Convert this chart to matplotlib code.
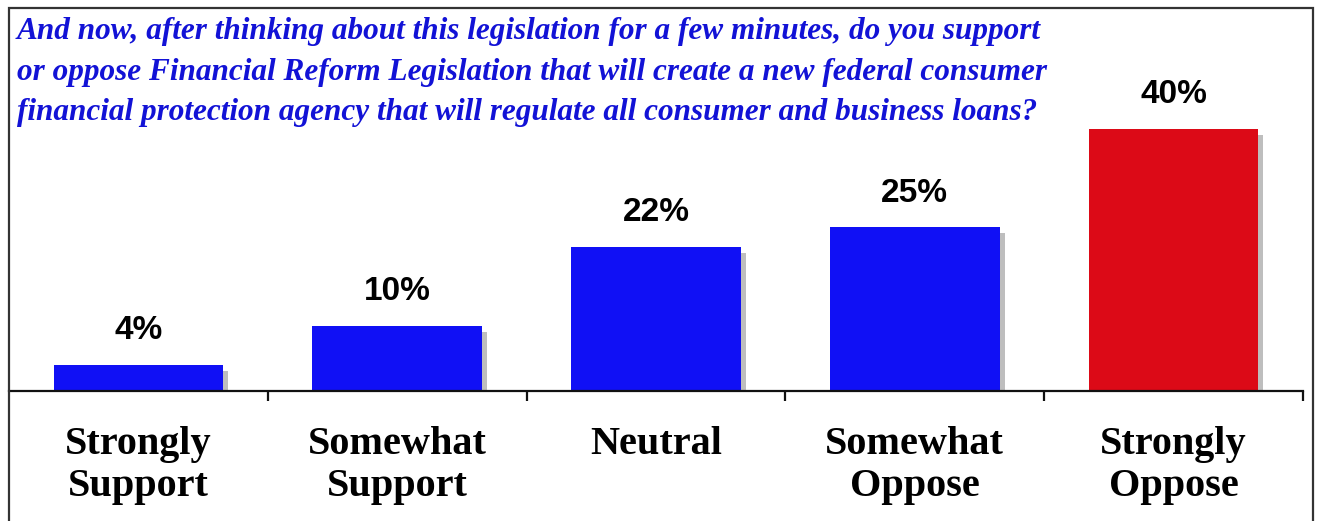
import matplotlib.pyplot as plt
from matplotlib.patches import Rectangle

# survey answers
categories = ['Strongly\nSupport', 'Somewhat\nSupport', 'Neutral', 'Somewhat\nOppose', 'Strongly\nOppose']
values = [4, 10, 22, 25, 40]
value_labels = ['4%', '10%', '22%', '25%', '40%']
bar_colors = ['#1010F5', '#1010F5', '#1010F5', '#1010F5', '#DC0A17']
title_lines = [
    'And now, after thinking about this legislation for a few minutes, do you support',
    'or oppose Financial Reform Legislation that will create a new federal consumer',
    'financial protection agency that will regulate all consumer and business loans?',
]

W, H = 1319, 521
fig = plt.figure(figsize=(W / 100, H / 100), dpi=100)
ax = fig.add_axes([9 / W, (H - 391) / H, (1303 - 9) / W, (391 - 8) / H])

x = list(range(len(values)))
bw = 0.656
px_per_unit = 6.55  # pixels per percent
# drop shadows behind bars
ax.bar([i + 5 / 259 for i in x], [v - 6 / px_per_unit for v in values], width=bw,
       color='#BEBEBE', zorder=1)
ax.bar(x, values, width=bw, color=bar_colors, zorder=2)

for i, v in enumerate(values):
    ax.annotate(value_labels[i], (i, v), xytext=(0, 18.5), textcoords='offset points',
                ha='center', va='baseline', fontsize=24, fontweight='bold',
                family='Liberation Sans', color='black')

ax.set_xlim(-0.5, len(values) - 0.5)
ax.set_ylim(0, (391 - 8) / px_per_unit)
for s in ['left', 'top', 'right']:
    ax.spines[s].set_visible(False)
ax.spines['bottom'].set_linewidth(1.6)
ax.spines['bottom'].set_color('#111111')
ax.set_yticks([])

ax.set_xticks(x)
ax.set_xticklabels(categories, fontsize=29, fontweight='bold', family='Liberation Serif',
                   linespacing=1.2)
ax.tick_params(axis='x', which='major', length=0, pad=25)
ax.set_xticks([i + 0.5 for i in x], minor=True)
ax.tick_params(axis='x', which='minor', length=7.5, width=1.6, direction='out', color='#111111')

# outer frame
fig.patches.append(Rectangle((9 / W, -0.2), (1313 - 9) / W, 0.2 + (H - 8) / H,
                             transform=fig.transFigure, fill=False, lw=1.6,
                             edgecolor='#333333', zorder=0))

baselines = [39, 80, 120]
for line, yb in zip(title_lines, baselines):
    fig.text(17 / W, (H - yb) / H, line, ha='left', va='baseline', fontsize=22.5,
             fontweight='bold', fontstyle='italic', family='Liberation Serif', color='#1212D6')

fig.savefig('out.png', dpi=100)
